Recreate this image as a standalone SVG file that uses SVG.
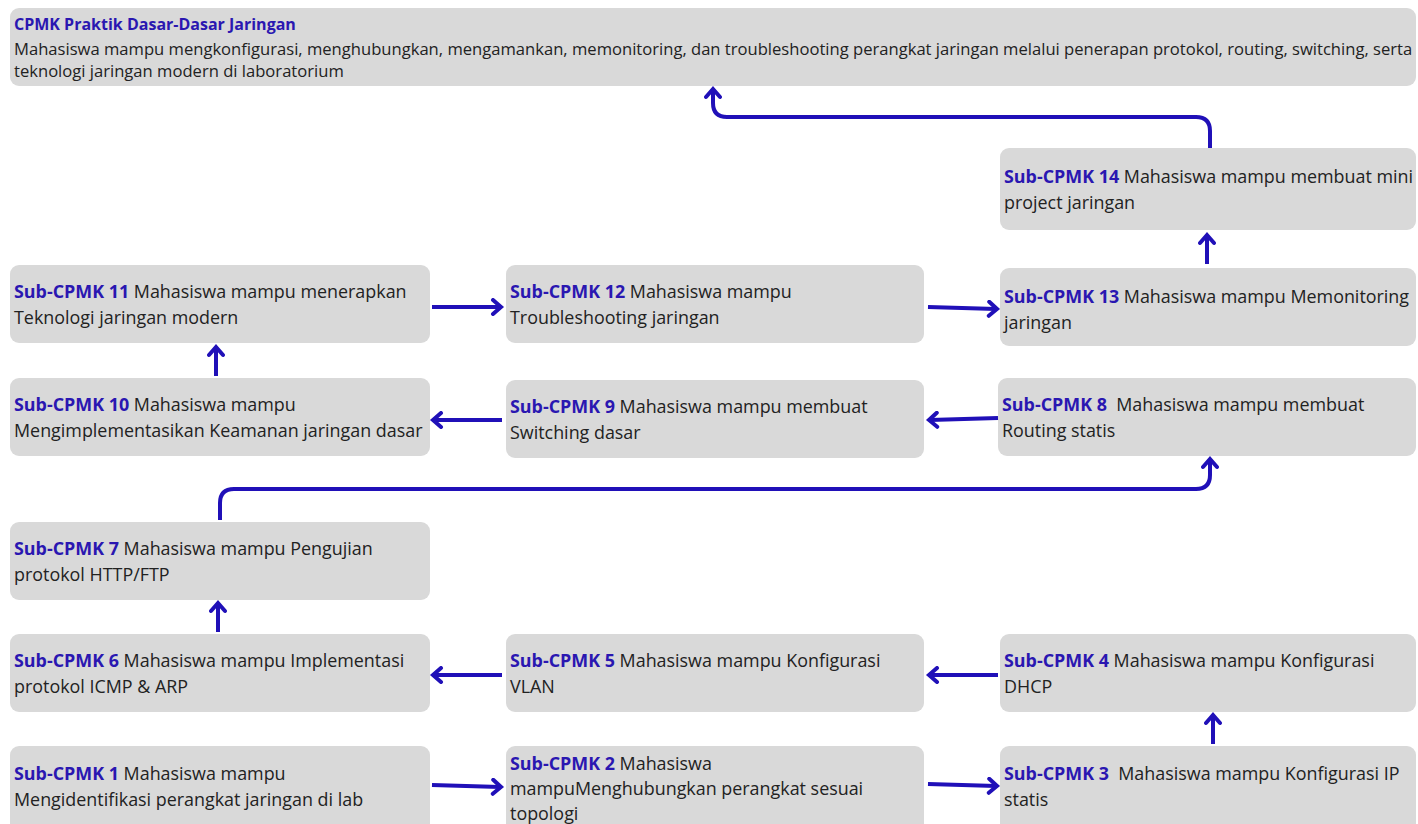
<svg xmlns="http://www.w3.org/2000/svg" width="1418" height="824" viewBox="0 0 1418 824">
<defs>
<style>
.box{fill:#d9d9d9;}
.t{font-family:"Open Sans","Noto Sans","Liberation Sans",sans-serif;font-size:17.9px;fill:#222222;}
.tt{font-family:"Open Sans","Noto Sans","Liberation Sans",sans-serif;font-size:16.6px;fill:#222222;}
.b{font-weight:bold;fill:#2a17b1;}
.bt{font-weight:bold;fill:#2a17b1;font-size:16px;}
.c{fill:none;stroke:#2010b8;stroke-width:4;stroke-linejoin:round;marker-end:url(#ah);}
</style>
<marker id="ah" markerUnits="userSpaceOnUse" markerWidth="18" markerHeight="18" viewBox="0 0 18 18" refX="12" refY="9" orient="auto">
<path d="M5,2 L13,9 L5,16" fill="none" stroke="#2010b8" stroke-width="4" stroke-linecap="round" stroke-linejoin="miter"/>
</marker>
</defs>
<rect width="1418" height="824" fill="#ffffff"/>

<g id="cpmk">
<rect class="box" x="10" y="8" width="1406" height="78" rx="9"/>
<text class="tt" x="14" y="30"><tspan class="bt">CPMK Praktik Dasar-Dasar Jaringan</tspan></text>
<text class="tt" x="14" y="55">Mahasiswa mampu mengkonfigurasi, menghubungkan, mengamankan, memonitoring, dan troubleshooting perangkat jaringan melalui penerapan protokol, routing, switching, serta</text>
<text class="tt" x="14" y="77">teknologi jaringan modern di laboratorium</text>
</g>

<g id="sub14">
<rect class="box" x="1000" y="148" width="416" height="82" rx="9"/>
<text class="t" x="1004" y="183"><tspan class="b">Sub-CPMK 14</tspan> Mahasiswa mampu membuat mini<tspan x="1004" dy="26">project jaringan</tspan></text>
</g>
<g id="sub11">
<rect class="box" x="10" y="265" width="420" height="78" rx="9"/>
<text class="t" x="14" y="298"><tspan class="b">Sub-CPMK 11</tspan> Mahasiswa mampu menerapkan<tspan x="14" dy="26">Teknologi jaringan modern</tspan></text>
</g>
<g id="sub12">
<rect class="box" x="506" y="265" width="418" height="78" rx="9"/>
<text class="t" x="510" y="298"><tspan class="b">Sub-CPMK 12</tspan> Mahasiswa mampu<tspan x="510" dy="26">Troubleshooting jaringan</tspan></text>
</g>
<g id="sub13">
<rect class="box" x="1000" y="268" width="416" height="78" rx="9"/>
<text class="t" x="1004" y="303"><tspan class="b">Sub-CPMK 13</tspan> Mahasiswa mampu Memonitoring<tspan x="1004" dy="26">jaringan</tspan></text>
</g>
<g id="sub10">
<rect class="box" x="10" y="378" width="420" height="78" rx="9"/>
<text class="t" x="14" y="411"><tspan class="b">Sub-CPMK 10</tspan> Mahasiswa mampu<tspan x="14" dy="26">Mengimplementasikan Keamanan jaringan dasar</tspan></text>
</g>
<g id="sub9">
<rect class="box" x="506" y="380" width="418" height="78" rx="9"/>
<text class="t" x="510" y="413"><tspan class="b">Sub-CPMK 9</tspan> Mahasiswa mampu membuat<tspan x="510" dy="26">Switching dasar</tspan></text>
</g>
<g id="sub8">
<rect class="box" x="998" y="378" width="418" height="78" rx="9"/>
<text class="t" x="1002" y="411"><tspan class="b">Sub-CPMK 8</tspan>&#160; Mahasiswa mampu membuat<tspan x="1002" dy="26">Routing statis</tspan></text>
</g>
<g id="sub7">
<rect class="box" x="10" y="522" width="420" height="78" rx="9"/>
<text class="t" x="14" y="555"><tspan class="b">Sub-CPMK 7</tspan> Mahasiswa mampu Pengujian<tspan x="14" dy="26">protokol HTTP/FTP</tspan></text>
</g>
<g id="sub6">
<rect class="box" x="10" y="634" width="420" height="78" rx="9"/>
<text class="t" x="14" y="667"><tspan class="b">Sub-CPMK 6</tspan> Mahasiswa mampu Implementasi<tspan x="14" dy="26">protokol ICMP &amp; ARP</tspan></text>
</g>
<g id="sub5">
<rect class="box" x="506" y="634" width="418" height="78" rx="9"/>
<text class="t" x="510" y="667"><tspan class="b">Sub-CPMK 5</tspan> Mahasiswa mampu Konfigurasi<tspan x="510" dy="26">VLAN</tspan></text>
</g>
<g id="sub4">
<rect class="box" x="1000" y="634" width="416" height="78" rx="9"/>
<text class="t" x="1004" y="667"><tspan class="b">Sub-CPMK 4</tspan> Mahasiswa mampu Konfigurasi<tspan x="1004" dy="26">DHCP</tspan></text>
</g>
<g id="sub1">
<rect class="box" x="10" y="746" width="420" height="86" rx="9"/>
<text class="t" x="14" y="780"><tspan class="b">Sub-CPMK 1</tspan> Mahasiswa mampu<tspan x="14" dy="26">Mengidentifikasi perangkat jaringan di lab</tspan></text>
</g>
<g id="sub2">
<rect class="box" x="506" y="746" width="418" height="86" rx="9"/>
<text class="t" x="510" y="770"><tspan class="b">Sub-CPMK 2</tspan> Mahasiswa<tspan x="510" dy="25">mampuMenghubungkan perangkat sesuai</tspan><tspan x="510" dy="25">topologi</tspan></text>
</g>
<g id="sub3">
<rect class="box" x="1000" y="746" width="416" height="86" rx="9"/>
<text class="t" x="1004" y="780"><tspan class="b">Sub-CPMK 3</tspan>&#160; Mahasiswa mampu Konfigurasi IP<tspan x="1004" dy="26">statis</tspan></text>
</g>

<g id="connectors">
<path class="c" d="M432,785 L500,787"/>
<path class="c" d="M928,784 L996,786"/>
<path class="c" d="M1213,744 L1213,716"/>
<path class="c" d="M998,675 L930,675"/>
<path class="c" d="M502,675 L434,675"/>
<path class="c" d="M218,632 L218,604"/>
<path class="c" d="M220,520 L220,503 Q220,489 234,489 L1196,489 Q1210,489 1210,475 L1210,460"/>
<path class="c" d="M998,418 L930,420"/>
<path class="c" d="M502,420 L434,420"/>
<path class="c" d="M216,376 L216,348"/>
<path class="c" d="M432,307 L500,307"/>
<path class="c" d="M928,307 L996,309"/>
<path class="c" d="M1207,264 L1207,236"/>
<path class="c" d="M1210,148 L1210,131 Q1210,117 1196,117 L727,117 Q713,117 713,103 L713,90"/>
</g>
</svg>
